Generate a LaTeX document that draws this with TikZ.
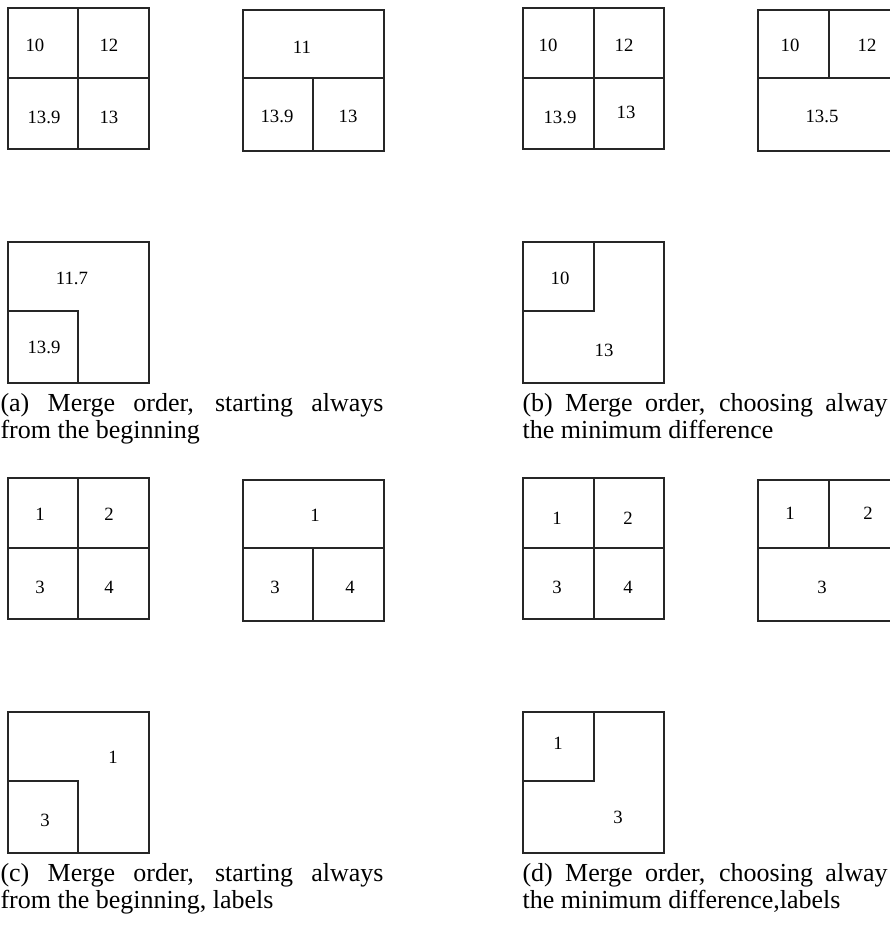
\documentclass[tikz,border=0pt]{standalone}
\usepackage{fontspec}
\setmainfont{Liberation Serif}

\tikzset{
  cell/.style={inner sep=0pt, font=\fontsize{7.2}{8.6}\selectfont},
  capline/.style={anchor=base west, inner sep=0pt, font=\fontsize{10}{10.4}\selectfont},
  pane/.style={line width=0.4pt, draw=black!85}
}

\begin{document}
\begin{tikzpicture}[x=0.3846pt, y=-0.3846pt]
            \useasboundingbox (0,0) rectangle (890,930);
            \clip (0,0) rectangle (890,930);

            % (a)
            \draw[pane] (8,8) rectangle (149,149) (78,8) -- (78,149) (8,78) -- (149,78);
            \draw[pane] (243,10) rectangle (384,151) (243,78) -- (384,78) (313,78) -- (313,151);
            \draw[pane] (8,242) rectangle (149,383) (8,311) -- (78,311) -- (78,383);
            \node[cell] (a10)  at (35,45)   {10};
            \node[cell] (a12)  at (109,45)  {12};
            \node[cell] (a139) at (44,117)  {13.9};
            \node[cell] (a13)  at (109,117) {13};
            \node[cell] (aa11)  at (302,47)  {11};
            \node[cell] (aa139) at (277,116) {13.9};
            \node[cell] (aa13)  at (348,116) {13};
            \node[cell] (ab117) at (72,278)  {11.7};
            \node[cell] (ab139) at (44,347)  {13.9};
            \node[capline] (capa1) at (0,411)  {\makebox[147.3pt][s]{(a) Merge order, starting always}};
            \node[capline] (capa2) at (0,438)  {from the beginning};

            % (b)
            \draw[pane] (523,8) rectangle (664,149) (594,8) -- (594,149) (523,78) -- (664,78);
            \draw[pane] (758,10) rectangle (899,151) (758,78) -- (899,78) (829,10) -- (829,78);
            \draw[pane] (523,242) rectangle (664,383) (523,311) -- (594,311) -- (594,242);
            \node[cell] (b10)  at (548,45)  {10};
            \node[cell] (b12)  at (624,45)  {12};
            \node[cell] (b139) at (560,117) {13.9};
            \node[cell] (b13)  at (626,112) {13};
            \node[cell] (ba10)  at (790,45)  {10};
            \node[cell] (ba12)  at (867,45)  {12};
            \node[cell] (ba135) at (822,116) {13.5};
            \node[cell] (bb10)  at (560,278) {10};
            \node[cell] (bb13)  at (604,350) {13};
            \node[capline] (capb1) at (522,411) {\makebox[140.4pt][s]{(b) Merge order, choosing alway}};
            \node[capline] (capb2) at (522,438) {the minimum difference};

            % (c)
            \draw[pane] (8,478) rectangle (149,619) (78,478) -- (78,619) (8,548) -- (149,548);
            \draw[pane] (243,480) rectangle (384,621) (243,548) -- (384,548) (313,548) -- (313,621);
            \draw[pane] (8,712) rectangle (149,853) (8,781) -- (78,781) -- (78,853);
            \node[cell] (c1) at (40,514)  {1};
            \node[cell] (c2) at (109,514) {2};
            \node[cell] (c3) at (40,587)  {3};
            \node[cell] (c4) at (109,587) {4};
            \node[cell] (ca1) at (315,515) {1};
            \node[cell] (ca3) at (275,587) {3};
            \node[cell] (ca4) at (350,587) {4};
            \node[cell] (cb1) at (113,757) {1};
            \node[cell] (cb3) at (45,820)  {3};
            \node[capline] (capc1) at (0,881)  {\makebox[147.3pt][s]{(c) Merge order, starting always}};
            \node[capline] (capc2) at (0,908)  {from the beginning, labels};

            % (d)
            \draw[pane] (523,478) rectangle (664,619) (594,478) -- (594,619) (523,548) -- (664,548);
            \draw[pane] (758,480) rectangle (899,621) (758,548) -- (899,548) (829,480) -- (829,548);
            \draw[pane] (523,712) rectangle (664,853) (523,781) -- (594,781) -- (594,712);
            \node[cell] (d1) at (557,518) {1};
            \node[cell] (d2) at (628,518) {2};
            \node[cell] (d3) at (557,587) {3};
            \node[cell] (d4) at (628,587) {4};
            \node[cell] (da1) at (790,513) {1};
            \node[cell] (da2) at (868,513) {2};
            \node[cell] (da3) at (822,587) {3};
            \node[cell] (db1) at (558,743) {1};
            \node[cell] (db3) at (618,817) {3};
            \node[capline] (capd1) at (522,881) {\makebox[140.4pt][s]{(d) Merge order, choosing alway}};
            \node[capline] (capd2) at (522,908) {the minimum difference,labels};
        \end{tikzpicture}
\end{document}
